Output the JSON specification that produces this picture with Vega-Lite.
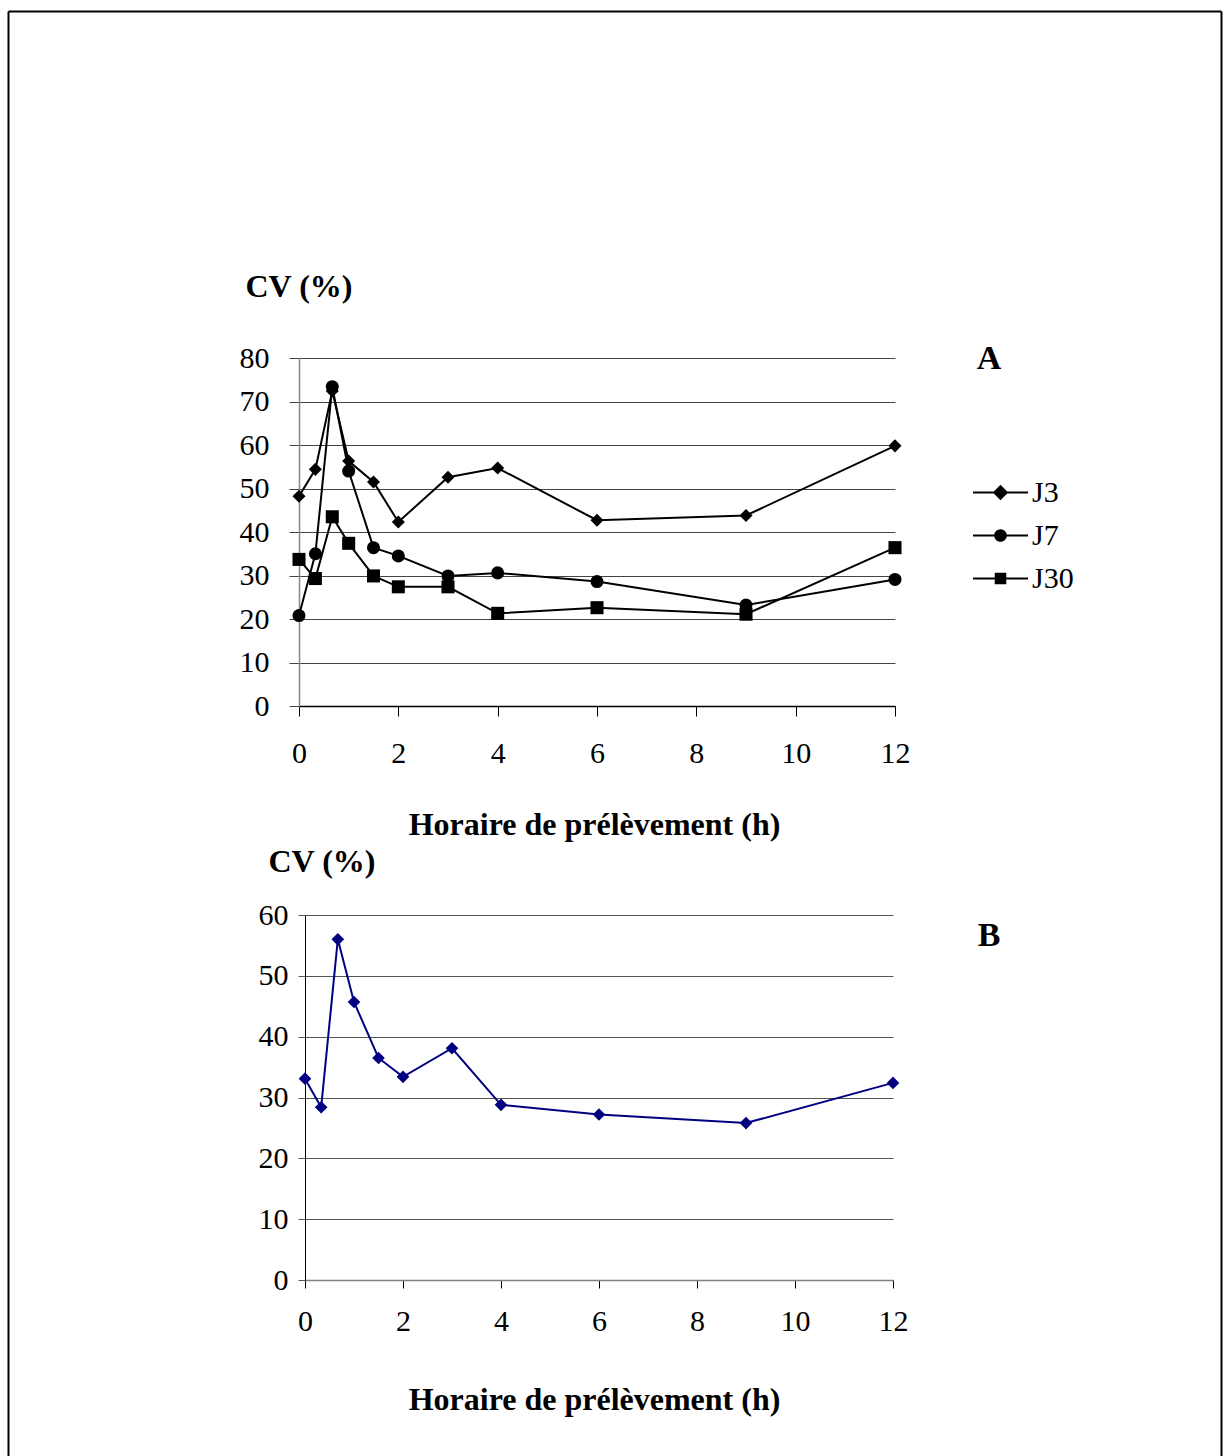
{
  "$schema": "https://vega.github.io/schema/vega-lite/v6.json",
  "autosize": {"type": "none"},
  "padding": {"left": 8, "top": 11, "right": 1216, "bottom": 1445},
  "background": "white",
  "bounds": "flush",
  "spacing": 346,
  "config": {
    "font": "Liberation Serif",
    "view": {"stroke": null},
    "axis": {
      "labelFont": "Liberation Serif",
      "titleFont": "Liberation Serif",
      "labelColor": "black",
      "titleColor": "black",
      "labelFontSize": 30,
      "titleFontSize": 32,
      "titleFontWeight": "bold",
      "labelFlush": false,
      "labelOverlap": false
    }
  },
  "datasets": {
    "A": [
      {"t": 0, "series": "J3", "cv": 48.2},
      {"t": 0.33, "series": "J3", "cv": 54.4},
      {"t": 0.67, "series": "J3", "cv": 72.4},
      {"t": 1, "series": "J3", "cv": 56.3},
      {"t": 1.5, "series": "J3", "cv": 51.5},
      {"t": 2, "series": "J3", "cv": 42.3},
      {"t": 3, "series": "J3", "cv": 52.6},
      {"t": 4, "series": "J3", "cv": 54.7},
      {"t": 6, "series": "J3", "cv": 42.7},
      {"t": 9, "series": "J3", "cv": 43.8},
      {"t": 12, "series": "J3", "cv": 59.8},
      {"t": 0, "series": "J7", "cv": 20.8},
      {"t": 0.33, "series": "J7", "cv": 35.0},
      {"t": 0.67, "series": "J7", "cv": 73.4},
      {"t": 1, "series": "J7", "cv": 54.0},
      {"t": 1.5, "series": "J7", "cv": 36.4},
      {"t": 2, "series": "J7", "cv": 34.5},
      {"t": 3, "series": "J7", "cv": 29.9},
      {"t": 4, "series": "J7", "cv": 30.6},
      {"t": 6, "series": "J7", "cv": 28.6},
      {"t": 9, "series": "J7", "cv": 23.2},
      {"t": 12, "series": "J7", "cv": 29.1},
      {"t": 0, "series": "J30", "cv": 33.7},
      {"t": 0.33, "series": "J30", "cv": 29.3},
      {"t": 0.67, "series": "J30", "cv": 43.5},
      {"t": 1, "series": "J30", "cv": 37.4},
      {"t": 1.5, "series": "J30", "cv": 29.9},
      {"t": 2, "series": "J30", "cv": 27.4},
      {"t": 3, "series": "J30", "cv": 27.4},
      {"t": 4, "series": "J30", "cv": 21.3},
      {"t": 6, "series": "J30", "cv": 22.6},
      {"t": 9, "series": "J30", "cv": 21.1},
      {"t": 12, "series": "J30", "cv": 36.4}
    ],
    "B": [
      {"t": 0, "cv": 33.1},
      {"t": 0.33, "cv": 28.4},
      {"t": 0.67, "cv": 56.0},
      {"t": 1, "cv": 45.7},
      {"t": 1.5, "cv": 36.5},
      {"t": 2, "cv": 33.4},
      {"t": 3, "cv": 38.1},
      {"t": 4, "cv": 28.8},
      {"t": 6, "cv": 27.2},
      {"t": 9, "cv": 25.8},
      {"t": 12, "cv": 32.4}
    ],
    "empty": []
  },
  "vconcat": [
    {
      "width": 1213,
      "height": 1,
      "data": {"name": "empty"},
      "encoding": {
        "x": {
          "field": "u",
          "type": "quantitative",
          "scale": {"domain": [0, 1], "nice": false, "zero": false},
          "axis": {"orient": "top", "domain": true, "domainColor": "black", "domainWidth": 2, "ticks": false, "labels": false, "grid": false, "title": null}
        }
      },
      "layer": [
        {
          "mark": {"type": "point"},
          "encoding": {
            "y": {
              "field": "v",
              "type": "quantitative",
              "scale": {"domain": [0, 1], "nice": false, "zero": false, "range": [0, 1450]},
              "axis": {"orient": "left", "domain": true, "domainColor": "black", "domainWidth": 2, "ticks": false, "labels": false, "grid": false, "title": null}
            }
          }
        },
        {
          "mark": {"type": "point"},
          "encoding": {
            "y": {
              "field": "v",
              "type": "quantitative",
              "scale": {"domain": [0, 1], "nice": false, "zero": false, "range": [0, 1450]},
              "axis": {"orient": "right", "domain": true, "domainColor": "black", "domainWidth": 2, "ticks": false, "labels": false, "grid": false, "title": null}
            }
          }
        }
      ],
      "resolve": {"scale": {"y": "independent"}, "axis": {"y": "independent"}}
    },
    {
      "bounds": "flush",
      "spacing": 290,
      "hconcat": [
        {
          "width": 1,
          "height": 1,
          "data": {"name": "empty"},
          "mark": {"type": "point"}
        },
        {
          "bounds": "flush",
          "spacing": 209,
          "vconcat": [
            {
              "width": 596,
              "height": 348,
              "data": {"name": "A"},
              "title": {
                "text": "A",
                "orient": "top",
                "anchor": "end",
                "frame": "group",
                "align": "center",
                "baseline": "middle",
                "offset": 0,
                "dx": 94,
                "dy": 123,
                "font": "Liberation Serif",
                "fontSize": 34,
                "fontWeight": "bold",
                "color": "black"
              },
              "encoding": {
                "x": {
                  "field": "t",
                  "type": "quantitative",
                  "scale": {"domain": [0, 12], "nice": false, "zero": false},
                  "axis": {
                    "values": [0, 2, 4, 6, 8, 10, 12],
                    "grid": false,
                    "domainColor": "black",
                    "domainWidth": 1.5,
                    "tickColor": "black",
                    "tickSize": 10,
                    "tickWidth": 1,
                    "labelFont": "Liberation Serif",
                    "labelPadding": 22,
                    "title": "Horaire de prélèvement (h)",
                    "titleX": 295,
                    "titleY": 118,
                    "titleBaseline": "middle"
                  }
                },
                "y": {
                  "field": "cv",
                  "type": "quantitative",
                  "scale": {"domain": [0, 80], "nice": false},
                  "axis": {
                    "values": [0, 10, 20, 30, 40, 50, 60, 70, 80],
                    "grid": true,
                    "gridColor": "#444444",
                    "gridWidth": 1,
                    "domainColor": "#888888",
                    "domainWidth": 1.5,
                    "tickColor": "#444444",
                    "tickSize": 10,
                    "labelFont": "Liberation Serif",
                    "labelPadding": 20,
                    "title": "CV (%)",
                    "titleAngle": 0,
                    "titleX": -54,
                    "titleY": -72,
                    "titleAlign": "left",
                    "titleBaseline": "middle"
                  }
                }
              },
              "layer": [
                {
                  "mark": {"type": "line", "color": "black", "strokeWidth": 2},
                  "encoding": {"detail": {"field": "series", "type": "nominal"}}
                },
                {
                  "mark": {"type": "point", "filled": true, "color": "black", "size": 170, "opacity": 1},
                  "encoding": {
                    "shape": {
                      "field": "series",
                      "type": "nominal",
                      "scale": {"domain": ["J3", "J7", "J30"], "range": ["diamond", "circle", "square"]},
                      "legend": null
                    }
                  }
                },
                {
                  "transform": [{"filter": "false"}],
                  "mark": {"type": "point", "filled": true, "color": "black", "opacity": 1},
                  "encoding": {
                    "shape": {
                      "field": "series",
                      "type": "nominal",
                      "scale": {
                        "domain": ["J3", "J7", "J30"],
                        "range": [
                          "M-1,-0.035L1,-0.035L1,0.035L-1,0.035Z M-0.28,0L0,-0.28L0.28,0L0,0.28Z",
                          "M-1,-0.035L1,-0.035L1,0.035L-1,0.035Z M-0.23,0A0.23,0.23,0,1,1,0.23,0A0.23,0.23,0,1,1,-0.23,0Z",
                          "M-1,-0.035L1,-0.035L1,0.035L-1,0.035Z M-0.21,-0.21L0.21,-0.21L0.21,0.21L-0.21,0.21Z"
                        ]
                      },
                      "legend": {
                        "orient": "none",
                        "legendX": 674,
                        "legendY": 107,
                        "padding": 0,
                        "title": null,
                        "labelFont": "Liberation Serif",
                        "labelFontSize": 30,
                        "labelColor": "black",
                        "labelOffset": 4,
                        "symbolSize": 3025,
                        "symbolOpacity": 1,
                        "symbolFillColor": "black",
                        "symbolStrokeWidth": 0,
                        "rowPadding": -13
                      }
                    }
                  }
                }
              ],
              "resolve": {"scale": {"shape": "independent"}, "legend": {"shape": "independent"}}
            },
            {
              "width": 594,
              "height": 365,
              "data": {"name": "B"},
              "title": {
                "text": "B",
                "orient": "top",
                "anchor": "end",
                "frame": "group",
                "align": "center",
                "baseline": "middle",
                "offset": 0,
                "dx": 96,
                "dy": 125,
                "font": "Liberation Serif",
                "fontSize": 34,
                "fontWeight": "bold",
                "color": "black"
              },
              "encoding": {
                "x": {
                  "field": "t",
                  "type": "quantitative",
                  "scale": {"domain": [0, 12], "nice": false, "zero": false, "range": [6, 594]},
                  "axis": {
                    "values": [0, 2, 4, 6, 8, 10, 12],
                    "grid": false,
                    "domainColor": "#808080",
                    "domainWidth": 1.5,
                    "tickColor": "black",
                    "tickSize": 8,
                    "tickWidth": 1,
                    "labelFont": "Liberation Serif",
                    "labelPadding": 18,
                    "title": "Horaire de prélèvement (h)",
                    "titleX": 295,
                    "titleY": 119,
                    "titleBaseline": "middle"
                  }
                },
                "y": {
                  "field": "cv",
                  "type": "quantitative",
                  "scale": {"domain": [0, 60], "nice": false},
                  "axis": {
                    "values": [0, 10, 20, 30, 40, 50, 60],
                    "grid": true,
                    "gridColor": "#555555",
                    "gridWidth": 1,
                    "offset": -6,
                    "domainColor": "black",
                    "domainWidth": 1,
                    "tickColor": "#555555",
                    "tickSize": 7,
                    "labelFont": "Liberation Serif",
                    "labelPadding": 10,
                    "title": "CV (%)",
                    "titleAngle": 0,
                    "titleX": -37,
                    "titleY": -54,
                    "titleAlign": "left",
                    "titleBaseline": "middle"
                  }
                }
              },
              "layer": [
                {"mark": {"type": "line", "color": "#000080", "strokeWidth": 2}},
                {"mark": {"type": "point", "shape": "diamond", "filled": true, "color": "#000080", "size": 160, "opacity": 1}}
              ]
            }
          ]
        }
      ]
    }
  ]
}
